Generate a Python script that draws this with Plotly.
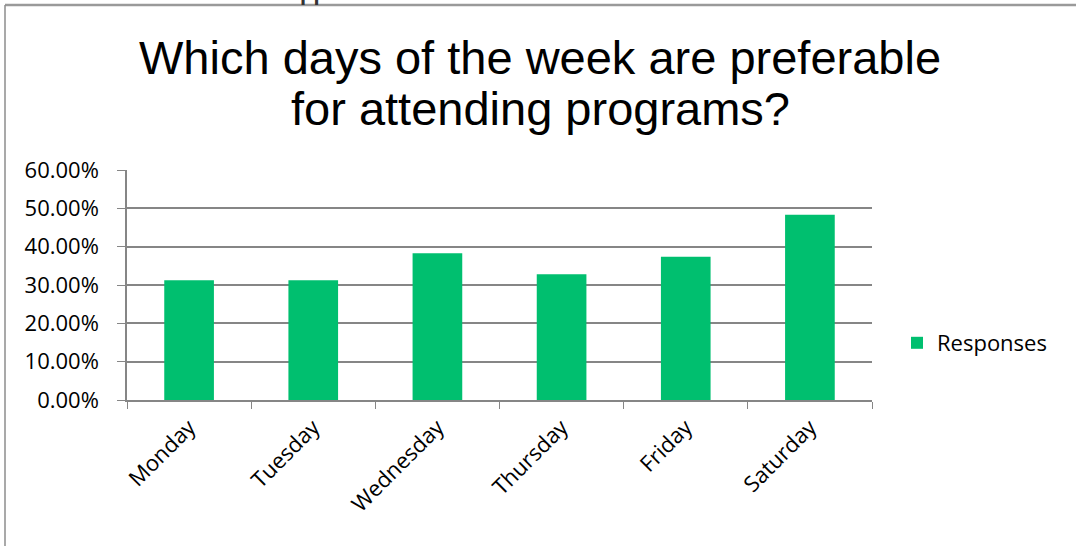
import plotly.graph_objects as go

# datos del gráfico
days = ["Monday", "Tuesday", "Wednesday", "Thursday", "Friday", "Saturday"]
responses = [0.3125, 0.3125, 0.383, 0.328, 0.374, 0.483]
y_ticks = [0, 0.1, 0.2, 0.3, 0.4, 0.5, 0.6]
title_lines = ["Which days of the week are preferable", "for attending programs?"]

W, H = 1076, 546
L, R, T, B = 127, 204, 170, 146


def px_to_paper(x, y):
    """Convierte píxeles de la página a coordenadas paper."""
    return (x - L) / (W - L - R), (H - B - y) / (H - T - B)


fig = go.Figure()

fig.add_trace(go.Bar(
    name="Responses",
    x=days,
    y=responses,
    marker=dict(color="#00BF6F", line=dict(width=0)),
))

# marco del área del gráfico (solo bordes superior e izquierdo visibles)
x0, y0 = px_to_paper(5, 5)
x1, y1 = px_to_paper(W + 5, H + 5)
fig.add_shape(type="line", xref="paper", yref="paper", x0=x0, y0=y0, x1=x1, y1=y0,
              line=dict(color="#9A9A9A", width=2.5))
fig.add_shape(type="line", xref="paper", yref="paper", x0=x0, y0=y0, x1=x0, y1=y1,
              line=dict(color="#8C8C8C", width=1.5))

# texto cortado en la parte superior
tx, ty = px_to_paper(313, 7)
fig.add_annotation(text="<b>pp</b>", xref="paper", yref="paper", x=tx, y=ty,
                   xanchor="center", yanchor="bottom", showarrow=False,
                   font=dict(family="Liberation Sans", size=22, color="#333333"))

# título en dos líneas
for line, ypx in zip(title_lines, [58, 108]):
    fig.add_annotation(text=line, xref="paper", yref="paper",
                       x=px_to_paper(W / 2 + 2, 0)[0], y=px_to_paper(0, ypx)[1],
                       xanchor="center", yanchor="middle", showarrow=False,
                       font=dict(family="Liberation Sans", size=47, color="black"))

fig.update_layout(
    width=W,
    height=H,
    margin=dict(l=L, r=R, t=T, b=B),
    paper_bgcolor="white",
    plot_bgcolor="white",
    bargap=0.6,
    showlegend=True,
    legend=dict(
        x=px_to_paper(897, 0)[0], y=px_to_paper(0, 343)[1],
        xanchor="left", yanchor="middle",
        font=dict(family="Open Sans", size=22, color="black"),
        bgcolor="rgba(0,0,0,0)",
    ),
    font=dict(family="Open Sans", size=22, color="black"),
)

fig.update_xaxes(
    tickangle=-45,
    showline=True, linecolor="#868686", linewidth=1.5,
    tickson="boundaries", ticks="outside", ticklen=7, tickcolor="#868686",
    ticklabelstandoff=4,
    showgrid=False,
    tickfont=dict(family="Open Sans", size=22, color="black"),
)

fig.update_yaxes(
    range=[0, 0.6],
    tickvals=y_ticks,
    tickformat=".2%",
    showline=True, linecolor="#868686", linewidth=1.5,
    ticks="outside", ticklen=8, tickcolor="#868686",
    ticklabelstandoff=14,
    showgrid=True, gridcolor="#868686", gridwidth=1.5,
    zeroline=False,
    tickfont=dict(family="Open Sans", size=22, color="black"),
)

fig.write_html("out.html", config={"displayModeBar": False},
               post_script="document.body.style.margin='0px';")
